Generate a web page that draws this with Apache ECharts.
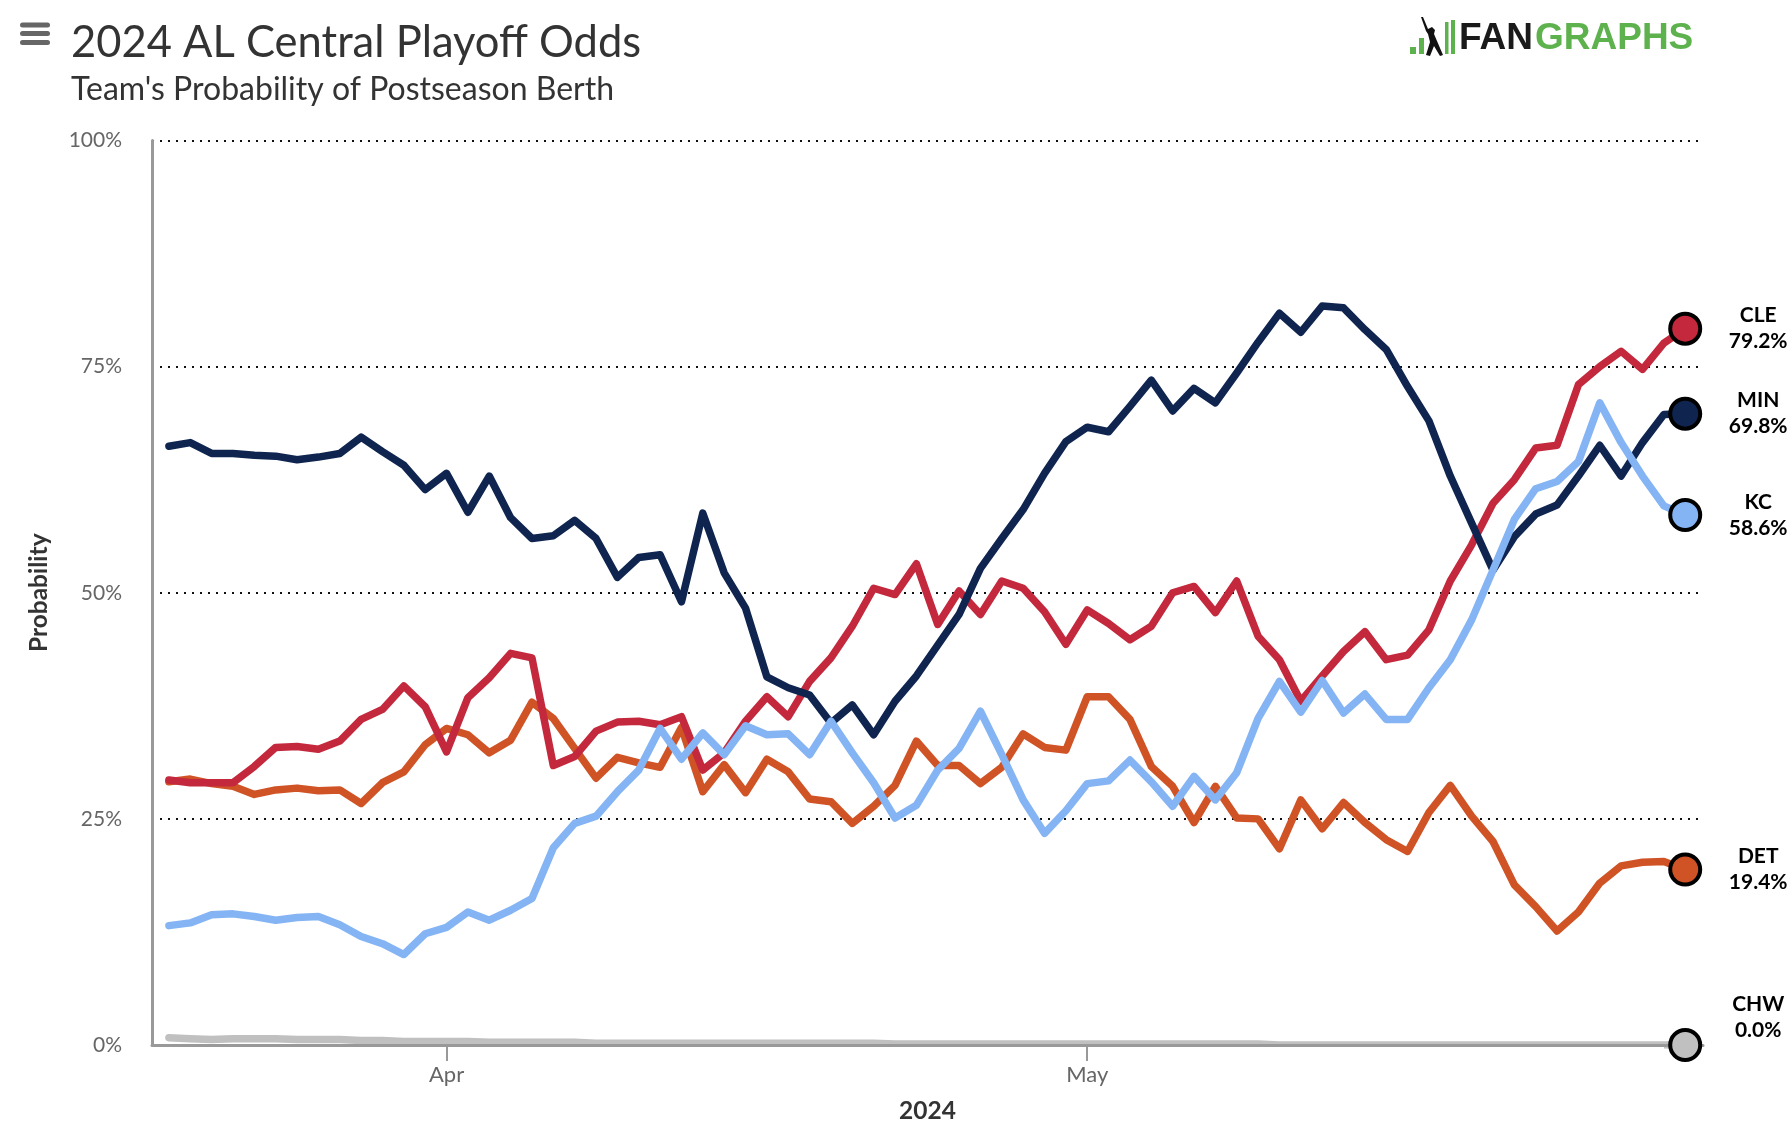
<!DOCTYPE html>
<html>
<head>
<meta charset="utf-8">
<script src="https://cdn.jsdelivr.net/npm/echarts@6/dist/echarts.min.js"></script>
<style>
html,body{margin:0;padding:0;background:#fff;}
#chart{width:1792px;height:1136px;}
</style>
</head>
<body>
<div id="chart"></div>
<script>
// ---------- DATA ----------
const dates = [
  '2024-03-19','2024-03-20','2024-03-21','2024-03-22','2024-03-23','2024-03-24','2024-03-25','2024-03-26','2024-03-27','2024-03-28','2024-03-29','2024-03-30','2024-03-31',
  '2024-04-01','2024-04-02','2024-04-03','2024-04-04','2024-04-05','2024-04-06','2024-04-07','2024-04-08','2024-04-09','2024-04-10',
  '2024-04-11','2024-04-12','2024-04-13','2024-04-14','2024-04-15','2024-04-16','2024-04-17','2024-04-18','2024-04-19','2024-04-20',
  '2024-04-21','2024-04-22','2024-04-23','2024-04-24','2024-04-25','2024-04-26','2024-04-27','2024-04-28','2024-04-29','2024-04-30',
  '2024-05-01','2024-05-02','2024-05-03','2024-05-04','2024-05-05','2024-05-06','2024-05-07','2024-05-08','2024-05-09','2024-05-10',
  '2024-05-11','2024-05-12','2024-05-13','2024-05-14','2024-05-15','2024-05-16','2024-05-17','2024-05-18','2024-05-19','2024-05-20',
  '2024-05-21','2024-05-22','2024-05-23','2024-05-24','2024-05-25','2024-05-26','2024-05-27','2024-05-28','2024-05-29'
];

const minValues = [66.2,66.6,65.4,65.4,65.2,65.1,64.7,65.0,65.4,67.2,65.6,64.1,61.4,63.2,58.9,62.9,58.3,56.0,56.3,58.0,
  56.0,51.7,53.9,54.2,49.0,58.8,52.2,48.3,40.7,39.5,38.7,35.6,37.6,34.3,38.0,40.8,44.2,47.6,52.7,56.0,
  59.2,63.2,66.7,68.3,67.8,70.6,73.5,70.1,72.6,71.0,74.3,77.7,80.9,78.8,81.7,81.5,79.1,76.9,72.8,69.0,
  62.9,57.7,52.5,56.2,58.7,59.7,62.9,66.3,62.9,66.6,69.7,69.8];

const cleValues = [29.3,29.0,29.0,29.0,30.8,32.9,33.0,32.7,33.6,36.0,37.1,39.7,37.4,32.4,38.4,40.6,43.3,42.8,30.9,31.9,
  34.7,35.7,35.8,35.4,36.3,30.4,32.3,35.8,38.5,36.3,40.2,42.8,46.3,50.5,49.8,53.2,46.5,50.2,47.6,51.3,
  50.5,47.9,44.3,48.1,46.6,44.8,46.3,50.0,50.7,47.8,51.3,45.2,42.6,38.0,40.8,43.5,45.7,42.6,43.1,45.9,
  51.3,55.3,59.9,62.5,66.0,66.3,73.0,75.0,76.7,74.7,77.6,79.2];

const kcValues = [13.2,13.5,14.4,14.5,14.2,13.8,14.1,14.2,13.3,12.0,11.2,10.0,12.3,13.0,14.7,13.8,14.9,16.2,21.8,24.5,
  25.3,28.0,30.4,35.0,31.6,34.5,32.1,35.3,34.3,34.4,32.1,35.8,32.3,29.0,25.1,26.5,30.4,32.8,36.9,32.1,
  27.1,23.4,25.9,28.9,29.2,31.5,29.1,26.4,29.7,27.1,30.1,36.1,40.2,36.8,40.3,36.7,38.8,36.0,36.0,39.5,
  42.6,47.0,52.5,58.1,61.5,62.3,64.5,71.0,66.6,62.9,59.6,58.6];

const detValues = [29.1,29.4,28.9,28.6,27.7,28.2,28.4,28.1,28.2,26.7,29.0,30.2,33.2,35.0,34.3,32.3,33.7,37.9,36.1,32.8,
  29.5,31.8,31.2,30.7,35.1,28.0,31.0,27.9,31.6,30.2,27.2,26.9,24.5,26.4,28.7,33.6,30.9,30.9,28.9,30.7,
  34.4,32.9,32.6,38.5,38.5,36.0,30.8,28.6,24.6,28.6,25.1,25.0,21.7,27.1,23.9,26.8,24.6,22.7,21.4,25.7,
  28.7,25.3,22.5,17.7,15.3,12.6,14.7,17.9,19.8,20.2,20.3,19.4];

const chwValues = [0.8,0.7,0.6,0.7,0.7,0.7,0.6,0.6,0.6,0.5,0.5,0.4,0.4,0.4,0.4,0.3,0.3,0.3,0.3,0.3,
  0.2,0.2,0.2,0.2,0.2,0.2,0.2,0.2,0.2,0.2,0.2,0.2,0.2,0.2,0.1,0.1,0.1,0.1,0.1,0.1,
  0.1,0.1,0.1,0.1,0.1,0.1,0.1,0.1,0.1,0.1,0.1,0.1,0,0,0,0,0,0,0,0,
  0,0,0,0,0,0,0,0,0,0,0,0];

const monthTickDates = ['2024-04-01', '2024-05-01'];
const monthTickLabels = ['Apr', 'May'];

// ---------- STYLE ----------
const teams = [
  {name:'CHW', values: chwValues, color:'#c0c0c0', labelOffset:[0,-28]},
  {name:'DET', values: detValues, color:'#d05326', labelOffset:[0,0]},
  {name:'CLE', values: cleValues, color:'#c3283d', labelOffset:[0,0]},
  {name:'MIN', values: minValues, color:'#0f2550', labelOffset:[0,0]},
  {name:'KC',  values: kcValues,  color:'#84b4f3', labelOffset:[0,0]}
];

function ts(s){ const p = s.split('-').map(Number); return new Date(p[0], p[1]-1, p[2]).getTime(); }
const tMin = new Date(2024, 2, 18, 5, 0).getTime();
const tMax = new Date(2024, 4, 29, 20, 0).getTime();
const monthTicks = monthTickDates.map(ts);
const FONT = 'Lato, "Noto Sans", sans-serif';

const lineSeries = teams.map(t => ({
  type: 'line',
  name: t.name,
  data: dates.map((d, i) => [ts(d), t.values[i]]),
  symbol: 'none',
  smooth: false,
  silent: true,
  z: 2,
  lineStyle: {width: 7.5, color: t.color, cap: 'round', join: 'round'},
  itemStyle: {color: t.color}
}));

const lastIdx = dates.length - 1;
const endSeries = {
  type: 'scatter',
  name: 'end',
  z: 10,
  silent: true,
  symbol: 'circle',
  symbolSize: 30,
  itemStyle: {opacity: 1},
  data: teams.map(t => ({
    name: t.name,
    value: [ts(dates[lastIdx]), t.values[lastIdx]],
    itemStyle: {color: t.color, borderColor: '#000', borderWidth: 4, opacity: 1},
    label: {offset: t.labelOffset}
  })),
  label: {
    show: true,
    position: 'right',
    distance: 56,
    align: 'center',
    verticalAlign: 'middle',
    formatter: p => p.data.name + '\n' + p.data.value[1].toFixed(1) + '%',
    fontFamily: FONT,
    fontWeight: 'bold',
    fontSize: 21,
    lineHeight: 26,
    color: '#000'
  }
};

const chart = echarts.init(document.getElementById('chart'), null, {renderer: 'canvas'});
chart.setOption({
  animation: false,
  backgroundColor: '#fff',
  title: {
    text: '2024 AL Central Playoff Odds',
    subtext: "Team's Probability of Postseason Berth",
    left: 71, top: 21, padding: 0, itemGap: 8.5,
    textStyle: {fontFamily: FONT, fontWeight: 'normal', fontSize: 43.5, color: '#333'},
    subtextStyle: {fontFamily: FONT, fontWeight: 'normal', fontSize: 32, color: '#333'}
  },
  grid: {left: 152, right: 89, top: 140.5, bottom: 91, containLabel: false},
  xAxis: {
    type: 'value', min: tMin, max: tMax, z: 5,
    name: '2024', nameLocation: 'middle', nameGap: 54,
    nameTextStyle: {fontFamily: FONT, fontWeight: 'bold', fontSize: 24.5, color: '#333'},
    axisLine: {show: true, lineStyle: {color: '#999', width: 3}},
    axisTick: {show: true, customValues: monthTicks, length: 16, lineStyle: {color: '#999', width: 2}},
    axisLabel: {
      customValues: monthTicks,
      formatter: v => {
        const k = monthTicks.findIndex(m => Math.abs(m - v) < 3600000);
        return k >= 0 ? monthTickLabels[k] : '';
      },
      fontFamily: FONT, fontSize: 22, color: '#666', margin: 19
    },
    splitLine: {show: false}
  },
  yAxis: {
    type: 'value', min: 0, max: 100, interval: 25,
    name: 'Probability', nameLocation: 'middle', nameGap: 100, nameRotate: 90,
    nameTextStyle: {fontFamily: FONT, fontWeight: 'bold', fontSize: 24.5, color: '#333'},
    axisLine: {show: true, lineStyle: {color: '#999', width: 3}},
    axisTick: {show: false},
    axisLabel: {formatter: '{value}%', fontFamily: FONT, fontSize: 21, color: '#666', margin: 30},
    splitLine: {show: true, showMinLine: false, lineStyle: {type: [2, 6], width: 2, color: '#111'}}
  },
  graphic: [
    {type: 'rect', z: 4, shape: {x: 150, y: 1046.5, width: 1514, height: 4.5}, style: {fill: '#fff'}},
    {type: 'rect', shape: {x: 20, y: 22.5, width: 30, height: 5, r: 2.5}, style: {fill: '#666'}},
    {type: 'rect', shape: {x: 20, y: 31, width: 30, height: 5, r: 2.5}, style: {fill: '#666'}},
    {type: 'rect', shape: {x: 20, y: 40, width: 30, height: 5, r: 2.5}, style: {fill: '#666'}},
    {type: 'rect', shape: {x: 1410, y: 47, width: 6, height: 7}, style: {fill: '#5db24e'}},
    {type: 'rect', shape: {x: 1419, y: 38, width: 5, height: 16}, style: {fill: '#5db24e'}},
    {type: 'rect', shape: {x: 1445, y: 22, width: 3.5, height: 32}, style: {fill: '#5db24e'}},
    {type: 'rect', shape: {x: 1451, y: 20, width: 4, height: 34}, style: {fill: '#5db24e'}},
    {type: 'polygon', shape: {points: [[1421,17],[1423,17],[1428,29],[1432,27],[1435,30],[1434,34],[1437,41],[1443,55],[1440,56],[1434,46],[1430,56],[1426,55],[1430,42],[1428,34],[1426,31]]}, style: {fill: '#111'}},
    {type: 'text', style: {x: 1459, y: 38.5, text: 'FAN', fontFamily: '"Liberation Sans", Arial, sans-serif', fontWeight: 'bold', fontSize: 37, fill: '#1a1a1a', verticalAlign: 'middle', align: 'left'}},
    {type: 'text', style: {x: 1535, y: 38.5, text: 'GRAPHS', fontFamily: '"Liberation Sans", Arial, sans-serif', fontWeight: 'bold', fontSize: 37, fill: '#5db24e', verticalAlign: 'middle', align: 'left'}}
  ],
  series: [...lineSeries, endSeries]
});
</script>
</body>
</html>
